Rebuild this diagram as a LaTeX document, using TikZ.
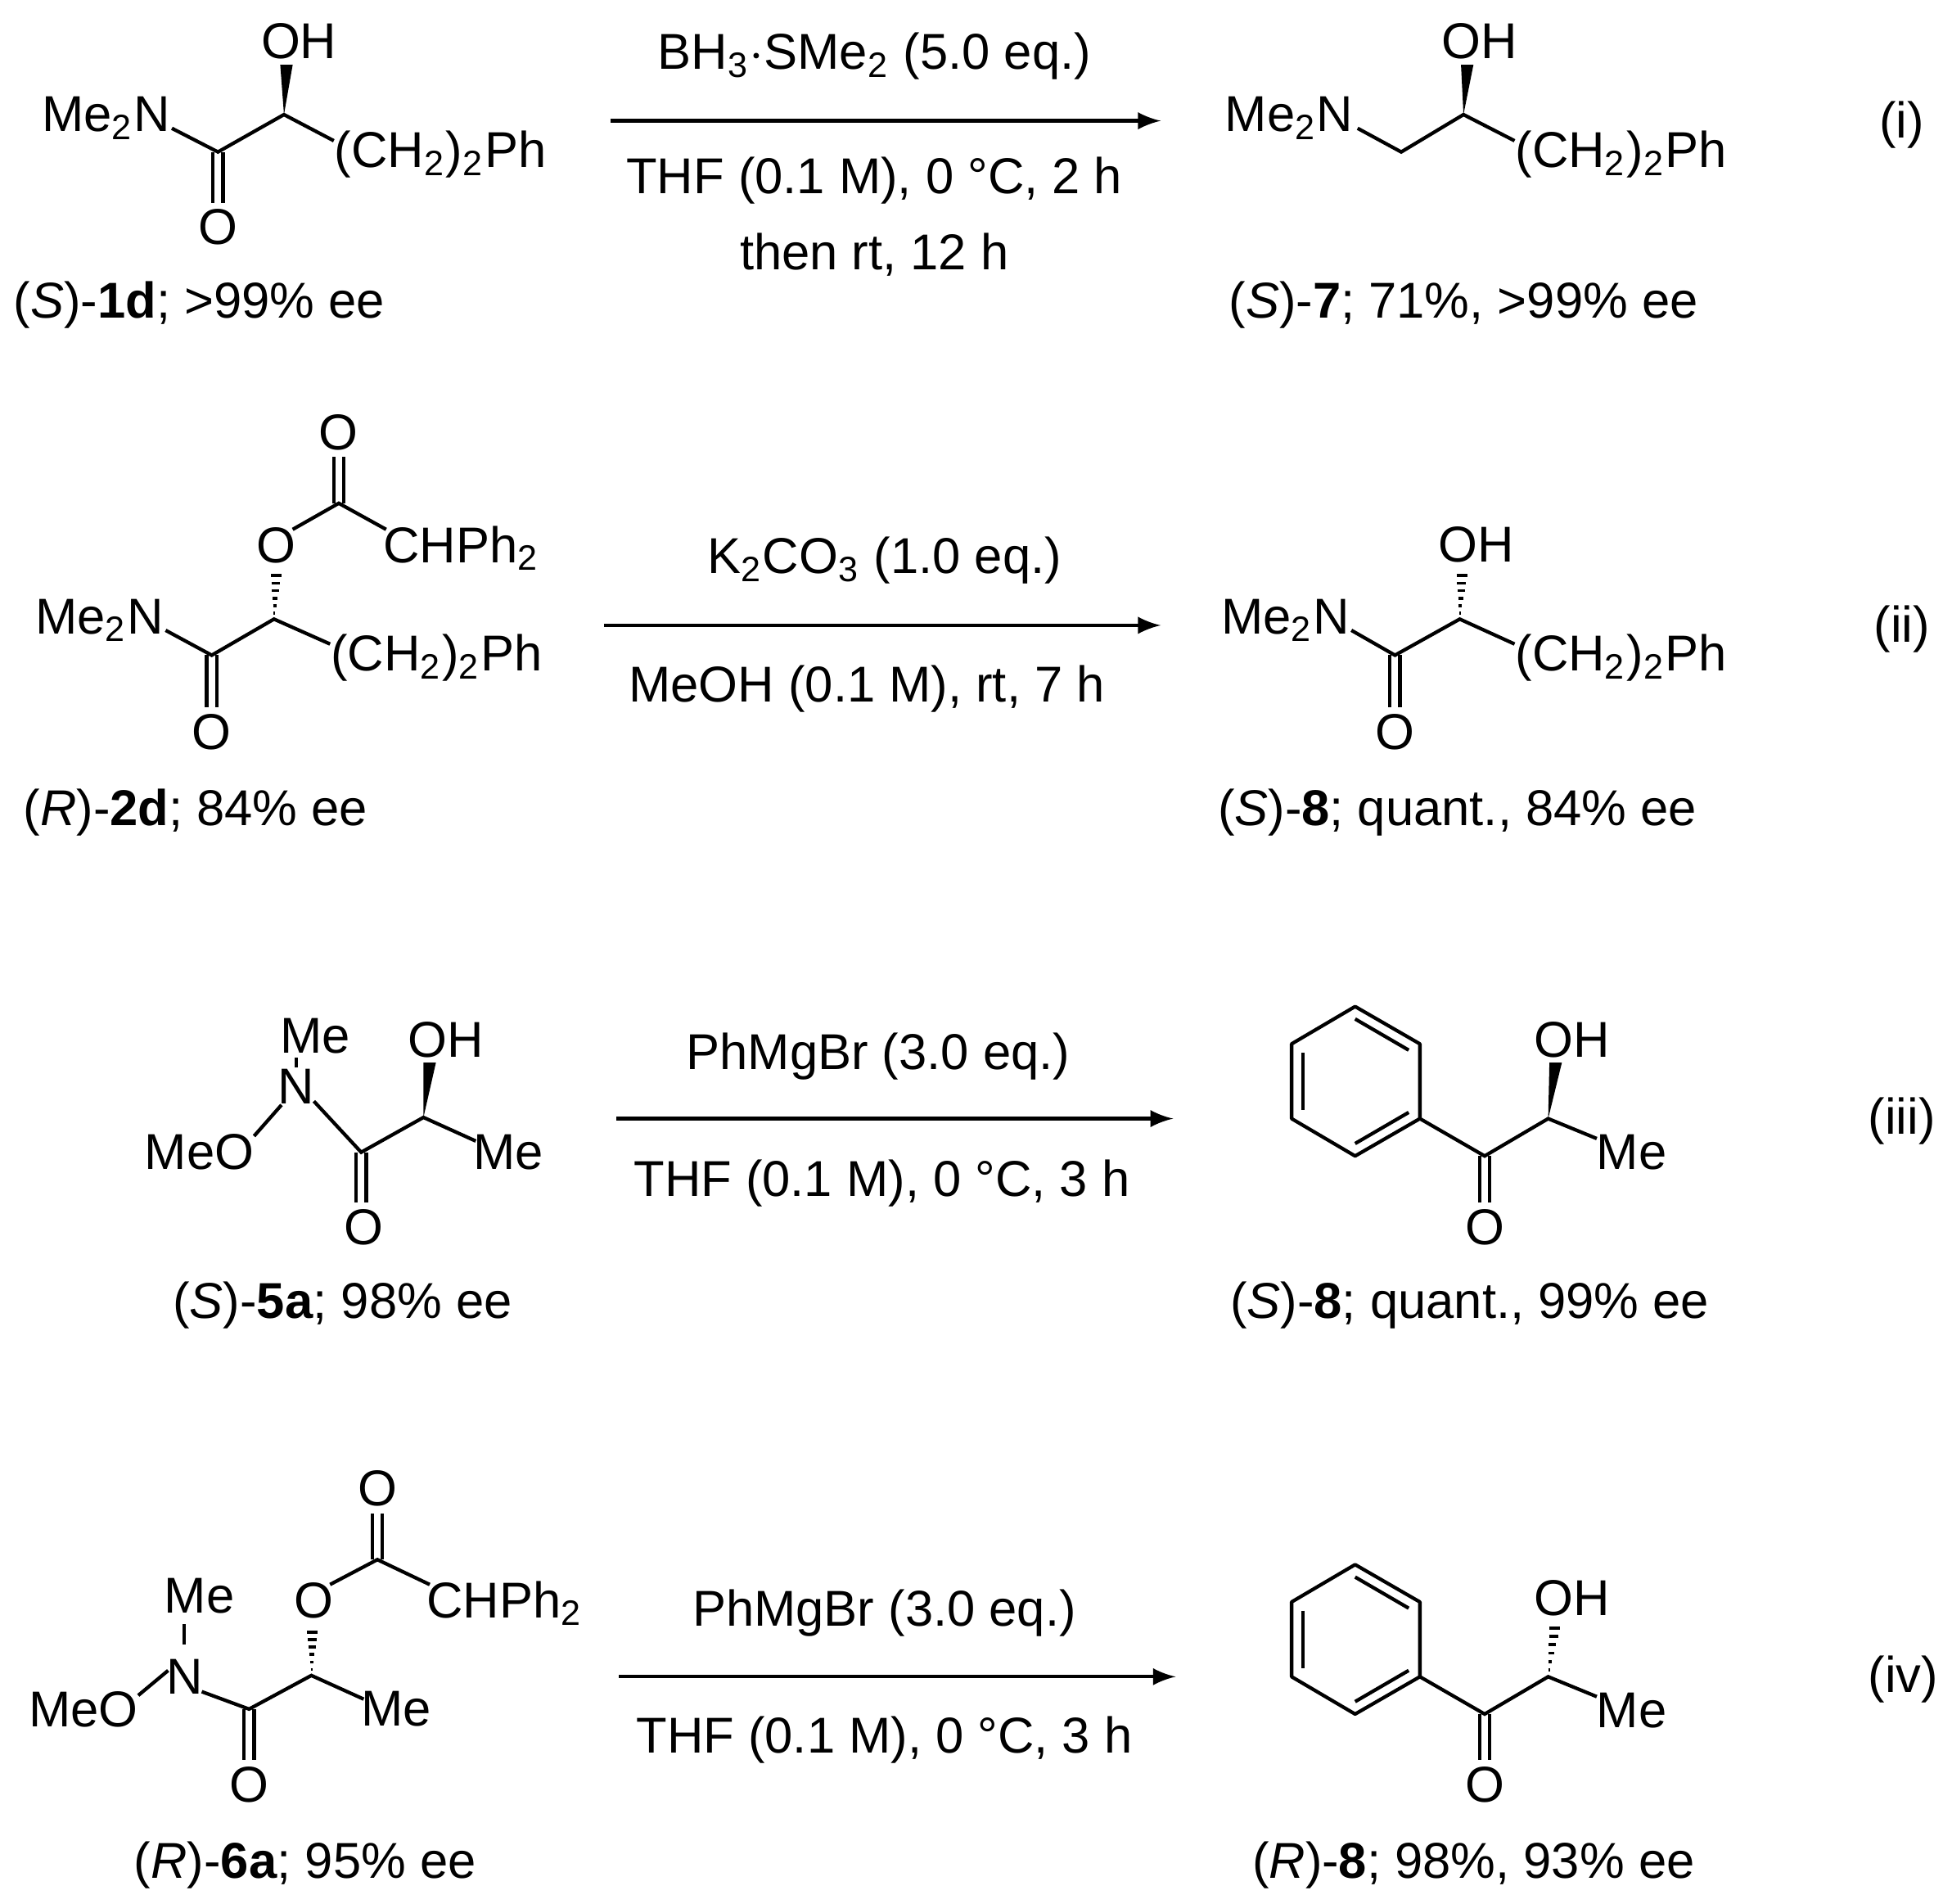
\documentclass[tikz,border=0pt]{standalone}
\usepackage{fontspec}
\setmainfont{Liberation Sans}
\usetikzlibrary{calc}
\tikzset{
  bond/.style={line width=0.8pt},
  atom/.style={inner sep=0pt, font=\fontsize{11.5}{13.5}\selectfont},
  cond/.style={inner sep=0pt, font=\fontsize{11.5}{13.5}\selectfont, align=center},
  rxn/.style={line width=0.8pt, -latex},
}
% wedge and hashed bond from #1 (stereocentre) to #2
\newcommand{\wedgebond}[2]{\fill ($(#1)$) -- ($(#2)+(-5,0)$) -- ($(#2)+(5,0)$) -- cycle;}
\newcommand{\hashbond}[2]{\foreach \t in {0.12,0.27,...,1}{\draw[line width=0.7pt] ($(#1)!\t!(#2)+(-5*\t,0)$) -- ($(#1)!\t!(#2)+(5*\t,0)$);}}
\newcommand{\dbl}[2]{\draw[bond] ($(#1)+(-4,0)$) -- ($(#2)+(-4,0)$); \draw[bond] ($(#1)+(4,0)$) -- ($(#2)+(4,0)$);}
\begin{document}
\begin{tikzpicture}[x=0.01cm,y=-0.01cm]
  \useasboundingbox (0,0) rectangle (1560,1528);

  % (i)
  \node[atom] (me2nA) at (85,95) {Me\textsubscript{2}N};
  \coordinate (nA) at (138,103); \coordinate (cA) at (175,122);
  \node[atom] (oA) at (175,182) {O}; \coordinate (oAb) at (175,163);
  \coordinate (aA) at (228,92); \node[atom] (ohA) at (240,33) {OH};
  \coordinate (ohAb) at (230,52);
  \node[atom,anchor=west] (chA) at (268,124) {(CH\textsubscript{2})\textsubscript{2}Ph};
  \coordinate (chAb) at (268,113);
  \draw[bond] (nA) -- (cA) -- (aA) -- (chAb);
  \dbl{cA}{oAb}
  \wedgebond{aA}{ohAb}
  \node[atom] (labA) at (160,245) {(\textit{S})-\textbf{1d}; >99\% ee};

  \coordinate (arA1) at (490,97); \coordinate (arA2) at (932,97);
  \draw[rxn] (arA1) -- (arA2);
  \node[cond] (upA) at (702,45) {BH\textsubscript{3}$\cdot$SMe\textsubscript{2} (5.0 eq.)};
  \node[cond] (dnA) at (702,174) {THF (0.1 M), 0 °C, 2 h\\[4pt]then rt, 12 h};

  \node[atom] (me2nB) at (1035,95) {Me\textsubscript{2}N};
  \coordinate (nB) at (1090,103); \coordinate (cB) at (1125,122);
  \coordinate (aB) at (1175,92); \node[atom] (ohB) at (1188,33) {OH};
  \coordinate (ohBb) at (1178,52);
  \node[atom,anchor=west] (chB) at (1216,124) {(CH\textsubscript{2})\textsubscript{2}Ph};
  \coordinate (chBb) at (1216,113);
  \draw[bond] (nB) -- (cB) -- (aB) -- (chBb);
  \wedgebond{aB}{ohBb}
  \node[atom] (labB) at (1175,245) {(\textit{S})-\textbf{7}; 71\%, >99\% ee};
  \node[atom] (numA) at (1527,100) {(i)};

  % (ii)
  \node[atom] (me2nC) at (80,498) {Me\textsubscript{2}N};
  \coordinate (nC) at (133,506); \coordinate (cC) at (170,526);
  \node[atom] (oC) at (170,588) {O}; \coordinate (oCb) at (170,568);
  \coordinate (aC) at (220,497);
  \node[atom] (oeC) at (222,438) {O}; \coordinate (oeCb) at (222,457);
  \coordinate (oeCr) at (235,425); \coordinate (eC) at (272,404);
  \node[atom] (oxC) at (272,347) {O}; \coordinate (oxCb) at (272,367);
  \node[atom,anchor=west] (chphC) at (307,440) {CHPh\textsubscript{2}};
  \coordinate (chphCb) at (310,425);
  \node[atom,anchor=west] (chC) at (265,528) {(CH\textsubscript{2})\textsubscript{2}Ph};
  \coordinate (chCb) at (265,517);
  \draw[bond] (nC) -- (cC) -- (aC) -- (chCb);
  \draw[bond] (oeCr) -- (eC) -- (chphCb);
  \dbl{cC}{oCb} \dbl{eC}{oxCb}
  \hashbond{aC}{oeCb}
  \node[atom] (labC) at (157,652) {(\textit{R})-\textbf{2d}; 84\% ee};

  \coordinate (arB1) at (485,502); \coordinate (arB2) at (932,502);
  \draw[rxn] (arB1) -- (arB2);
  \node[cond] (upB) at (710,450) {K\textsubscript{2}CO\textsubscript{3} (1.0 eq.)};
  \node[cond] (dnB) at (696,553) {MeOH (0.1 M), rt, 7 h};

  \node[atom] (me2nD) at (1032,498) {Me\textsubscript{2}N};
  \coordinate (nD) at (1085,506); \coordinate (cD) at (1120,526);
  \node[atom] (oD) at (1120,588) {O}; \coordinate (oDb) at (1120,568);
  \coordinate (aD) at (1172,497); \node[atom] (ohD) at (1185,437) {OH};
  \coordinate (ohDb) at (1174,457);
  \node[atom,anchor=west] (chD) at (1216,528) {(CH\textsubscript{2})\textsubscript{2}Ph};
  \coordinate (chDb) at (1216,517);
  \draw[bond] (nD) -- (cD) -- (aD) -- (chDb);
  \dbl{cD}{oDb}
  \hashbond{aD}{ohDb}
  \node[atom] (labD) at (1170,652) {(\textit{S})-\textbf{8}; quant., 84\% ee};
  \node[atom] (numB) at (1527,505) {(ii)};

  % (iii)
  \node[atom] (meE) at (253,832) {Me}; \node[atom] (nE) at (238,872) {N};
  \node[atom] (meoE) at (160,925) {MeO};
  \coordinate (meEb) at (238,849); \coordinate (nEt) at (238,857);
  \coordinate (oE) at (204,912); \coordinate (nEl) at (226,887);
  \coordinate (nEr) at (252,884); \coordinate (cE) at (290,925);
  \node[atom] (oE2) at (292,985) {O}; \coordinate (oE2b) at (290,965);
  \coordinate (aE) at (340,897); \node[atom] (ohE) at (358,835) {OH};
  \coordinate (ohEb) at (345,853);
  \node[atom] (meE2) at (408,925) {Me}; \coordinate (meE2b) at (382,916);
  \draw[bond] (meEb) -- (nEt);
  \draw[bond] (oE) -- (nEl); \draw[bond] (nEr) -- (cE) -- (aE) -- (meE2b);
  \dbl{cE}{oE2b}
  \wedgebond{aE}{ohEb}
  \node[atom] (labE) at (275,1048) {(\textit{S})-\textbf{5a}; 98\% ee};

  \coordinate (arC1) at (495,898); \coordinate (arC2) at (942,898);
  \draw[rxn] (arC1) -- (arC2);
  \node[cond] (upC) at (705,848) {PhMgBr (3.0 eq.)};
  \node[cond] (dnC) at (708,950) {THF (0.1 M), 0 °C, 3 h};

  % (iv)
  \node[atom] (meG) at (160,1281) {Me}; \node[atom] (nG) at (148,1346) {N};
  \node[atom] (meoG) at (67,1372) {MeO};
  \coordinate (meGb) at (148,1304); \coordinate (nGt) at (148,1320);
  \coordinate (oG) at (111,1361); \coordinate (nGl) at (135,1341);
  \coordinate (nGr) at (162,1358); \coordinate (cG) at (200,1372);
  \node[atom] (oG2) at (200,1433) {O}; \coordinate (oG2b) at (200,1413);
  \coordinate (aG) at (250,1345);
  \node[atom] (oeG) at (252,1285) {O}; \coordinate (oeGb) at (251,1305);
  \coordinate (oeGr) at (265,1272); \coordinate (eG) at (303,1252);
  \node[atom] (oxG) at (303,1195) {O}; \coordinate (oxGb) at (303,1215);
  \node[atom,anchor=west] (chphG) at (342,1287) {CHPh\textsubscript{2}};
  \coordinate (chphGb) at (345,1272);
  \node[atom] (meG2) at (318,1372) {Me}; \coordinate (meG2b) at (292,1364);
  \draw[bond] (meGb) -- (nGt);
  \draw[bond] (oG) -- (nGl); \draw[bond] (nGr) -- (cG) -- (aG) -- (meG2b);
  \draw[bond] (oeGr) -- (eG) -- (chphGb);
  \dbl{cG}{oG2b} \dbl{eG}{oxGb}
  \hashbond{aG}{oeGb}
  \node[atom] (labG) at (245,1497) {(\textit{R})-\textbf{6a}; 95\% ee};

  \coordinate (arD1) at (497,1346); \coordinate (arD2) at (944,1346);
  \draw[rxn] (arD1) -- (arD2);
  \node[cond] (upD) at (710,1295) {PhMgBr (3.0 eq.)};
  \node[cond] (dnD) at (710,1397) {THF (0.1 M), 0 °C, 3 h};

  % ketone products
  \foreach \dy/\nm in {0/F,448/H}{
    \begin{scope}[yshift=-\dy*0.01cm]
      \coordinate (r1\nm) at (1088,808); \coordinate (r2\nm) at (1140,838);
      \coordinate (r3\nm) at (1140,898); \coordinate (r4\nm) at (1088,928);
      \coordinate (r5\nm) at (1037,898); \coordinate (r6\nm) at (1037,838);
      \draw[bond,line join=round] (r1\nm) -- (r2\nm) -- (r3\nm) -- (r4\nm) -- (r5\nm) -- (r6\nm) -- cycle;
      \draw[bond] (1046,845) -- (1046,891);
      \draw[bond] (1088,818) -- (1131,843);
      \draw[bond] (1088,918) -- (1131,893);
      \coordinate (c\nm) at (1192,928); \coordinate (a\nm) at (1243,898);
      \node[atom] (o\nm) at (1192,985) {O}; \coordinate (o\nm b) at (1192,965);
      \node[atom] (oh\nm) at (1262,835) {OH}; \coordinate (oh\nm b) at (1249,853);
      \node[atom] (me\nm) at (1310,925) {Me}; \coordinate (me\nm b) at (1282,914);
      \draw[bond] (r3\nm) -- (c\nm) -- (a\nm) -- (me\nm b);
      \dbl{c\nm}{o\nm b}
    \end{scope}
  }
  \wedgebond{aF}{ohFb}
  \hashbond{aH}{ohHb}
  \node[atom] (labF) at (1180,1048) {(\textit{S})-\textbf{8}; quant., 99\% ee};
  \node[atom] (numC) at (1527,900) {(iii)};
  \node[atom] (labH) at (1183,1497) {(\textit{R})-\textbf{8}; 98\%, 93\% ee};
  \node[atom] (numD) at (1528,1348) {(iv)};
\end{tikzpicture}
\end{document}
